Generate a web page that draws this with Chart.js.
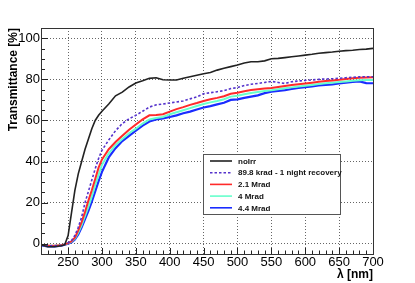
<!DOCTYPE html>
<html>
<head>
<meta charset="utf-8">
<script src="https://cdn.jsdelivr.net/npm/chart.js@4/dist/chart.umd.min.js"></script>
<style>
html,body{margin:0;padding:0;background:#fff;}
#wrap{width:415px;height:283px;}
</style>
</head>
<body>
<div id="wrap"><canvas id="c" width="415" height="283"></canvas></div>
<script>
// ---- data ----
const wavelength = [210,220,230,240,245,250,255,260,265,270,275,280,285,290,295,300,310,320,330,340,350,360,370,380,390,400,410,420,430,440,450,460,470,480,490,500,510,520,530,540,550,560,570,580,590,600,610,620,630,640,650,660,670,680,690,700];

const noIrr = [-0.5,-1.5,-1.5,-1,-0.5,4,15,26,34,40,46,51,56,60,62.5,64.5,68,72,73.8,76.3,78.2,79.3,80.5,80.8,79.8,79.7,79.7,80.5,81.3,82,82.7,83.3,84.5,85.4,86.2,87,88,88.6,88.6,89,90,90.2,90.6,91,91.4,91.8,92.2,92.7,93,93.3,93.7,94,94.2,94.5,94.7,95.1];

const krad89 = [-0.5,-1,-1,-0.8,-0.3,0.5,1.5,4,8,13,20,25.5,31,36.5,41.5,45.5,50.5,55,58.5,60.8,62.5,64.5,66.5,67.6,68,68.5,69,69.5,70.5,71.5,73,73.5,74,74.5,75.5,76,77,77.6,78,78.5,79,78.5,78,78.8,79.2,79.5,79.7,80,80.2,80.3,80.5,80.8,81,81.2,81.3,81.3];

const mrad21 = [-0.5,-1,-1,-0.8,-0.3,0.3,1.2,3,6.5,10.5,15.5,21,26,31.5,37,41,46,49.5,52.5,55.5,58,60.5,62.5,62.7,63,64.3,65.5,66.5,67.6,68.5,69.5,70.3,71,71.8,73,73.5,74.2,74.8,75.2,75.5,75.8,76.3,76.8,77.2,77.6,78,78.4,78.8,79.2,79.5,79.8,80.2,80.5,80.8,80.9,81];

const mrad4 = [-0.5,-1,-1,-0.8,-0.3,0.2,1,2.5,5.5,9,13.5,18,23,28.5,33.5,38.5,44,48,51,53.8,56,58.5,60.5,61.2,61.7,63,64,65,66,67,68,68.8,69.5,70.3,71.6,72,72.8,73.4,73.9,74.3,74.7,75.2,75.7,76.1,76.5,76.9,77.3,77.7,78.1,78.4,78.7,79,79.3,79.6,79.7,79.7];

const mrad44 = [-0.8,-1.3,-1.3,-1,-0.5,0,0.7,2,4.5,8,12,16,20.5,25.5,30.5,35,42,46.5,50,52.5,55,57.5,59.5,60.5,61,61.7,62.5,63.5,64.3,65.3,66.3,67,67.8,68.6,70,70.3,71,71.6,72.2,73.3,74,74.4,74.8,75.3,75.8,76.2,76.6,77,77.3,77.6,78,78.4,78.8,79,78.2,78.1];

const seriesLabels = ['noIrr','89.8 krad - 1 night recovery','2.1 Mrad','4 Mrad','4.4 Mrad'];
const xTickValues = [250,300,350,400,450,500,550,600,650,700];
const yTickValues = [0,20,40,60,80,100];

// ---- build datasets ----
function pts(vals){ return wavelength.map((w,i)=>({x:w,y:vals[i]})); }
const styles = [
  {color:'#222222', width:1.6, dash:[]},
  {color:'#5533cc', width:1.6, dash:[2.5,2]},
  {color:'#ff2a2a', width:2, dash:[]},
  {color:'#66ffcc', width:2, dash:[]},
  {color:'#1a2cff', width:2.2, dash:[]}
];
const allSeries = [noIrr, krad89, mrad21, mrad4, mrad44];
const datasets = allSeries.map((s,i)=>({
  label: seriesLabels[i],
  data: pts(s),
  borderColor: styles[i].color,
  borderWidth: styles[i].width,
  borderDash: styles[i].dash,
  pointRadius: 0,
  tension: 0,
  fill: false
}));

// ---- plugins: frame, inner ticks, legend ----
const framePlugin = {
  id:'frame',
  afterDatasetsDraw(chart){
    const {ctx, chartArea:a, scales} = chart;
    ctx.save();
    // inner tick marks
    ctx.strokeStyle = '#222'; ctx.lineWidth = 1;
    ctx.beginPath();
    for(let v=210; v<=700; v+=10){
      const x = Math.round(scales.x.getPixelForValue(v))+0.5;
      const len = (v%50===0)?6:3.5;
      ctx.moveTo(x,a.bottom); ctx.lineTo(x,a.bottom-len);
    }
    for(let v=-5; v<=105; v+=5){
      const y = Math.round(scales.y.getPixelForValue(v))+0.5;
      const len = (v%20===0)?7:4;
      ctx.moveTo(a.left,y); ctx.lineTo(a.left+len,y);
    }
    ctx.stroke();
    // frame
    ctx.strokeStyle = '#333'; ctx.lineWidth = 1;
    ctx.strokeRect(Math.round(a.left)+0.5, Math.round(a.top)+0.5, Math.round(a.right-a.left), Math.round(a.bottom-a.top));
    // legend
    const lx = a.left + 162, ly = a.top + 126, lw = 137, lh = 60;
    ctx.fillStyle = '#fff';
    ctx.fillRect(lx, ly, lw, lh);
    ctx.strokeStyle = '#555';
    ctx.strokeRect(lx+0.5, ly+0.5, lw, lh);
    ctx.font = 'bold 8px "Liberation Sans", Arial, sans-serif';
    ctx.textBaseline = 'middle';
    ctx.fillStyle = '#111';
    chart.data.datasets.forEach((ds,i)=>{
      const yy = ly + 7 + i*11.7;
      ctx.save();
      ctx.strokeStyle = ds.borderColor;
      ctx.lineWidth = Math.min(ds.borderWidth, 1.6);
      ctx.setLineDash(ds.borderDash||[]);
      ctx.beginPath(); ctx.moveTo(lx+7, yy); ctx.lineTo(lx+29, yy); ctx.stroke();
      ctx.restore();
      ctx.fillText(ds.label, lx+35, yy+0.5);
    });
    ctx.restore();
  }
};

const chart = new Chart(document.getElementById('c'), {
  type:'line',
  data:{datasets},
  options:{
    responsive:false,
    devicePixelRatio:1,
    animation:false,
    events:[],
    layout:{padding:{left:0, top:28, right:42, bottom:0}},
    plugins:{legend:{display:false}, tooltip:{enabled:false}, title:{display:false}},
    scales:{
      x:{
        type:'linear', min:210, max:700,
        afterBuildTicks(s){ s.ticks = xTickValues.map(v=>({value:v})); },
        afterFit(s){ s.height = 29; },
        grid:{color:'#666', lineWidth:1, drawTicks:false},
        border:{display:false, dash:[1,2]},
        ticks:{color:'#000', padding:1, maxRotation:0, autoSkip:false,
               font:{family:'"Liberation Sans", Arial, sans-serif', size:13}},
        title:{display:true, text:'λ [nm]', align:'end', color:'#000',
               font:{family:'"Liberation Sans", Arial, sans-serif', size:12, weight:'bold'},
               padding:{top:0,bottom:1}}
      },
      y:{
        type:'linear', min:-5, max:105,
        afterBuildTicks(s){ s.ticks = yTickValues.map(v=>({value:v})); },
        afterFit(s){ s.width = 41; },
        grid:{color:'#666', lineWidth:1, drawTicks:false},
        border:{display:false, dash:[1,2]},
        ticks:{color:'#000', padding:1, autoSkip:false,
               font:{family:'"Liberation Sans", Arial, sans-serif', size:13}},
        title:{display:true, text:'Transmittance [%]', align:'end', color:'#000',
               font:{family:'"Liberation Sans", Arial, sans-serif', size:12, weight:'bold'},
               padding:{top:6,bottom:0}}
      }
    }
  },
  plugins:[framePlugin]
});
</script>
</body>
</html>
